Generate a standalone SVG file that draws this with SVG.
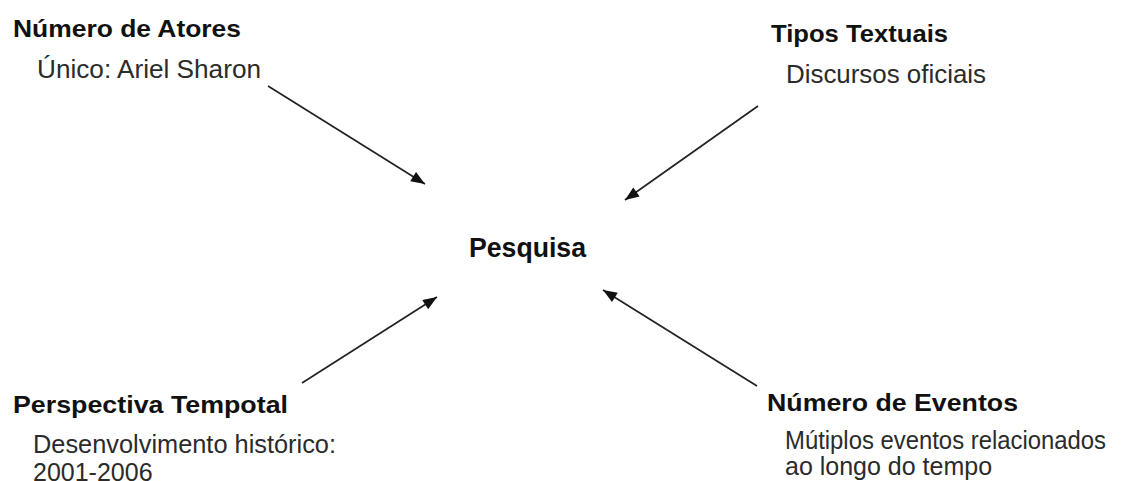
<svg xmlns="http://www.w3.org/2000/svg" width="1138" height="481" viewBox="0 0 1138 481">
<style>
.t{font-family:"Liberation Sans",Arial,sans-serif;font-weight:bold;font-size:24px;fill:#111}
.s{font-family:"Liberation Sans",Arial,sans-serif;font-size:25px;fill:#2b2b2b}
.c{stroke:#222;stroke-width:1.7;fill:none}
</style>
<defs>
<marker id="ah" viewBox="0 0 14 11" refX="14" refY="5.5" markerWidth="14" markerHeight="11" markerUnits="userSpaceOnUse" orient="auto" style="overflow:visible">
<path d="M0,0 L14,5.5 L0,11 z" fill="#111"/>
</marker>
</defs>
<rect width="1138" height="481" fill="#fff"/>
<g id="connectors">
<line class="c" x1="268" y1="86" x2="425" y2="184" marker-end="url(#ah)"/>
<line class="c" x1="758" y1="106" x2="625" y2="200" marker-end="url(#ah)"/>
<line class="c" x1="302" y1="383" x2="437" y2="297" marker-end="url(#ah)"/>
<line class="c" x1="757" y1="386" x2="603" y2="290" marker-end="url(#ah)"/>
</g>
<g id="pesquisa">
<text class="t" x="469" y="257" style="font-size:27px" textLength="117" lengthAdjust="spacingAndGlyphs">Pesquisa</text>
</g>
<g id="atores">
<text class="t" x="13" y="37" textLength="228" lengthAdjust="spacingAndGlyphs">Número de Atores</text>
<text class="s" x="37" y="78" textLength="224" lengthAdjust="spacingAndGlyphs">Único: Ariel Sharon</text>
</g>
<g id="tipos">
<text class="t" x="771" y="42" textLength="177" lengthAdjust="spacingAndGlyphs">Tipos Textuais</text>
<text class="s" x="786" y="83" textLength="200" lengthAdjust="spacingAndGlyphs">Discursos oficiais</text>
</g>
<g id="perspectiva">
<text class="t" x="13" y="413" textLength="275" lengthAdjust="spacingAndGlyphs">Perspectiva Tempotal</text>
<text class="s" x="33" y="453" textLength="303" lengthAdjust="spacingAndGlyphs">Desenvolvimento histórico:</text>
<text class="s" x="33" y="481">2001-2006</text>
</g>
<g id="eventos">
<text class="t" x="767" y="411" textLength="251" lengthAdjust="spacingAndGlyphs">Número de Eventos</text>
<text class="s" x="785" y="449" textLength="321" lengthAdjust="spacingAndGlyphs">Mútiplos eventos relacionados</text>
<text class="s" x="785" y="475">ao longo do tempo</text>
</g>
</svg>
